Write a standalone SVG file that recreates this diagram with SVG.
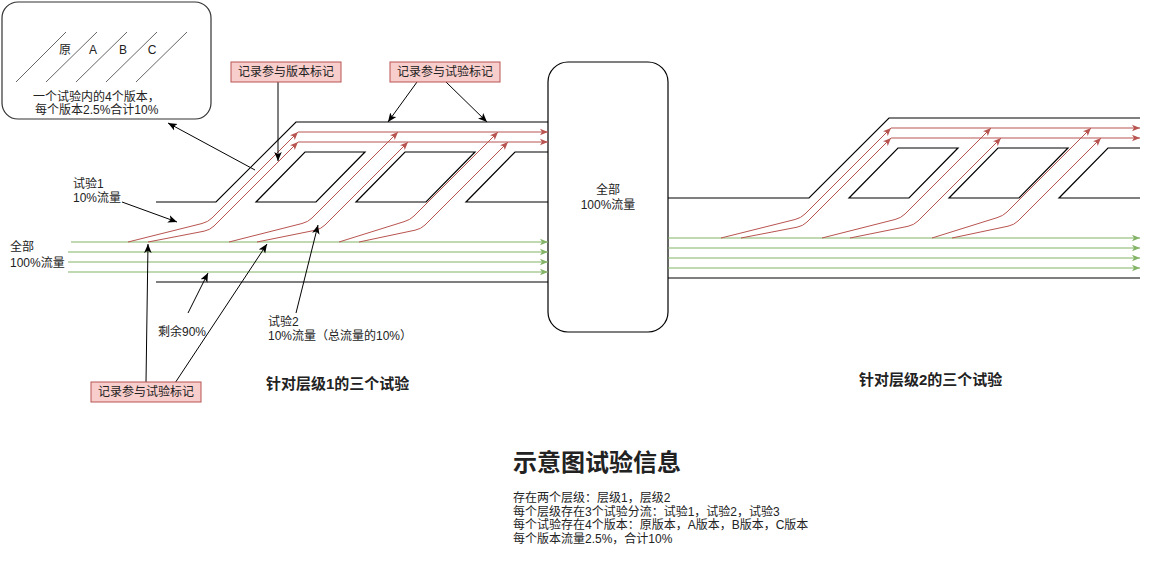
<svg xmlns="http://www.w3.org/2000/svg" width="1149" height="563" viewBox="0 0 1149 563">
<style>
text{font-family:"Liberation Sans","Noto Sans CJK SC",sans-serif;font-size:12px;fill:#222;text-spacing-trim:space-all}
.b{font-weight:bold}
.blk{fill:none;stroke:#000;stroke-width:1.2}
.red{fill:none;stroke:#b85450;stroke-width:1}
.redh{fill:none;stroke:#b85450;stroke-width:1.2}
.grn{fill:none;stroke:#82b366;stroke-width:1.2}
.ann{fill:none;stroke:#000;stroke-width:1}
.tag{fill:#f8cecc;stroke:#b85450;stroke-width:1}
.mid{text-anchor:middle}
</style>
<defs>
<marker id="ar" viewBox="0 0 10 10" refX="10" refY="5" markerWidth="8" markerHeight="8" markerUnits="userSpaceOnUse" orient="auto"><path d="M0,0.8 L10,5 L0,9.2 L2.5,5 z" fill="#b85450"/></marker>
<marker id="ag" viewBox="0 0 10 10" refX="10" refY="5" markerWidth="8" markerHeight="8" markerUnits="userSpaceOnUse" orient="auto"><path d="M0,0.8 L10,5 L0,9.2 L2.5,5 z" fill="#82b366"/></marker>
<marker id="ak" viewBox="0 0 10 10" refX="10" refY="5" markerWidth="9" markerHeight="9" markerUnits="userSpaceOnUse" orient="auto"><path d="M0,0.8 L10,5 L0,9.2 L2.5,5 z" fill="#000"/></marker>
</defs>

<g id="version-box">
<rect x="2" y="2" width="209" height="117" rx="16" fill="#fff" stroke="#333" stroke-width="1.2"/>
<g stroke="#666" stroke-width="1">
<line x1="16" y1="82" x2="66" y2="32"/>
<line x1="46" y1="82" x2="97" y2="32"/>
<line x1="76" y1="82" x2="127" y2="32"/>
<line x1="106" y1="82" x2="157" y2="32"/>
<line x1="136" y1="82" x2="187" y2="32"/>
</g>
<text x="65" y="54" class="mid">原</text>
<text x="93" y="54" class="mid">A</text>
<text x="123" y="54" class="mid">B</text>
<text x="152" y="54" class="mid">C</text>
<text x="33" y="101">一个试验内的4个版本，</text>
<text x="35" y="114">每个版本2.5%合计10%</text>
</g>

<g id="layer1-channels">
<path class="blk" d="M156,202 H216 L296,122 H548"/>
<path class="blk" d="M256,202 L305,152 H365 L316,202 Z"/>
<path class="blk" d="M356,202 L405,152 H475 L426,202 Z"/>
<path class="blk" d="M548,202 H466 L515,152 H548"/>
<path class="blk" d="M156,282 H548"/>
</g>

<g id="layer2-channels">
<path class="blk" d="M668,198 H809 L889,118 H1140"/>
<path class="blk" d="M849,198 L898,148 H958 L909,198 Z"/>
<path class="blk" d="M949,198 L998,148 H1068 L1019,198 Z"/>
<path class="blk" d="M1140,198 H1059 L1108,148 H1140"/>
<path class="blk" d="M668,278 H1140"/>
</g>

<g id="all-box">
<rect x="548" y="62" width="120" height="270" rx="20" fill="#fff" stroke="#000" stroke-width="1.2"/>
<text x="608" y="194" class="mid">全部</text>
<text x="608" y="209" class="mid">100%流量</text>
</g>

<g id="connectors">
<path class="grn" d="M71,242 H548" marker-end="url(#ag)"/>
<path class="grn" d="M68,252 H548" marker-end="url(#ag)"/>
<path class="grn" d="M68,262 H548" marker-end="url(#ag)"/>
<path class="grn" d="M68,272 H548" marker-end="url(#ag)"/>
<path class="grn" d="M668,238 H1140" marker-end="url(#ag)"/>
<path class="grn" d="M668,248 H1140" marker-end="url(#ag)"/>
<path class="grn" d="M668,258 H1140" marker-end="url(#ag)"/>
<path class="grn" d="M668,268 H1140" marker-end="url(#ag)"/>
<path class="redh" d="M298,132 H548" marker-end="url(#ar)"/>
<path class="redh" d="M298,142 H548" marker-end="url(#ar)"/>
<path class="red" d="M128,242 L202,223.5 Q208,222 212,218 L298,132" marker-end="url(#ar)"/>
<path class="red" d="M148,242 L204,231.2 Q210,230 214,226 L298,142" marker-end="url(#ar)"/>
<path class="red" d="M229,242 L302,223.5 Q308,222 312,218 L398,132" marker-end="url(#ar)"/>
<path class="red" d="M257,242 L315,230.3 Q321,229 325,225 L408,142" marker-end="url(#ar)"/>
<path class="red" d="M339,242 L404,221.7 Q410,220 414,216 L498,132" marker-end="url(#ar)"/>
<path class="red" d="M359,242 L415,230.2 Q421,229 425,225 L508,142" marker-end="url(#ar)"/>
<path class="redh" d="M891,128 H1140" marker-end="url(#ar)"/>
<path class="redh" d="M891,138 H1140" marker-end="url(#ar)"/>
<path class="red" d="M721,238 L795,219.5 Q801,218 805,214 L891,128" marker-end="url(#ar)"/>
<path class="red" d="M741,238 L797,227.2 Q803,226 807,222 L891,138" marker-end="url(#ar)"/>
<path class="red" d="M822,238 L895,219.5 Q901,218 905,214 L991,128" marker-end="url(#ar)"/>
<path class="red" d="M850,238 L908,226.3 Q914,225 918,221 L1001,138" marker-end="url(#ar)"/>
<path class="red" d="M932,238 L997,217.7 Q1003,216 1007,212 L1091,128" marker-end="url(#ar)"/>
<path class="red" d="M952,238 L1008,226.2 Q1014,225 1018,221 L1101,138" marker-end="url(#ar)"/>
<path class="ann" d="M255,170 L168,123" marker-end="url(#ak)"/>
<path class="ann" d="M278,82 L278,161" marker-end="url(#ak)"/>
<path class="ann" d="M417,82 L388,122" marker-end="url(#ak)"/>
<path class="ann" d="M446,82 L487,122" marker-end="url(#ak)"/>
<path class="ann" d="M122,202 L177,222" marker-end="url(#ak)"/>
<path class="ann" d="M146,382 L148,244" marker-end="url(#ak)"/>
<path class="ann" d="M175,383 L267,244" marker-end="url(#ak)"/>
<path class="ann" d="M188,313 L208,273" marker-end="url(#ak)"/>
<path class="ann" d="M296,313 L318,225" marker-end="url(#ak)"/>
</g>

<g id="tag-version">
<rect class="tag" x="231" y="62" width="110" height="20"/>
<text x="286" y="76" class="mid">记录参与版本标记</text>
</g>
<g id="tag-exp-top">
<rect class="tag" x="390" y="62" width="110" height="20"/>
<text x="445" y="76" class="mid">记录参与试验标记</text>
</g>
<g id="tag-exp-bottom">
<rect class="tag" x="91" y="382" width="110" height="20"/>
<text x="146" y="396" class="mid">记录参与试验标记</text>
</g>

<g id="labels">
<text x="73" y="188">试验1</text>
<text x="73" y="202">10%流量</text>
<text x="10" y="251">全部</text>
<text x="10" y="267">100%流量</text>
<text x="158" y="336">剩余90%</text>
<text x="268" y="326">试验2</text>
<text x="268" y="340">10%流量（总流量的10%）</text>
<text x="266" y="389" class="b" style="font-size:15px">针对层级1的三个试验</text>
<text x="859" y="385" class="b" style="font-size:15px">针对层级2的三个试验</text>
</g>

<g id="info">
<text x="513" y="471" class="b" style="font-size:24px">示意图试验信息</text>
<text x="513" y="502">存在两个层级：层级1，层级2</text>
<text x="513" y="516">每个层级存在3个试验分流：试验1，试验2，试验3</text>
<text x="513" y="529">每个试验存在4个版本：原版本，A版本，B版本，C版本</text>
<text x="513" y="543">每个版本流量2.5%，合计10%</text>
</g>
</svg>
